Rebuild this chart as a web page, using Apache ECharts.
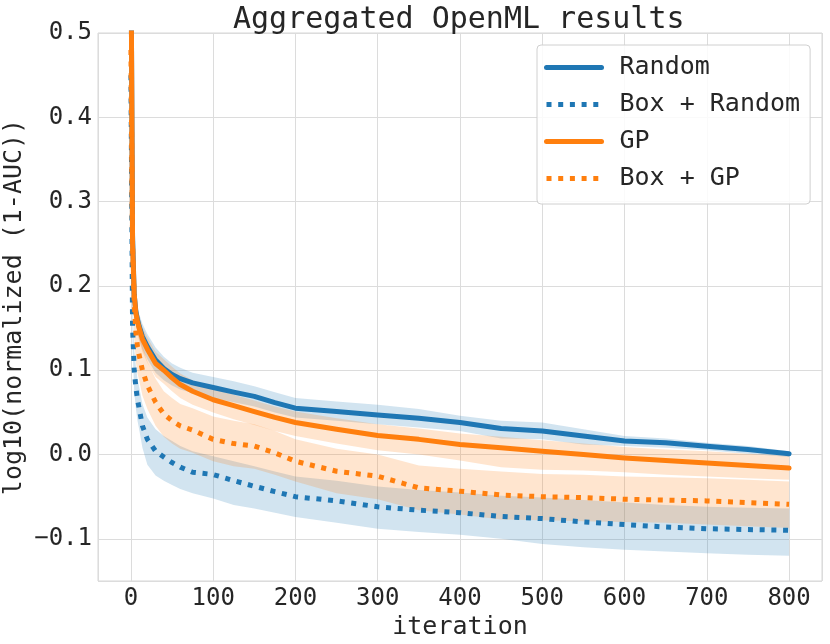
<!DOCTYPE html>
<html>
<head>
<meta charset="utf-8">
<script src="https://cdn.jsdelivr.net/npm/echarts@6/dist/echarts.min.js"></script>
<style>html,body{margin:0;padding:0;background:#fff}#c{width:830px;height:644px}</style>
</head>
<body>
<div id="c"></div>
<script>
var iterations = [0, 2, 4, 6, 8, 10, 14, 20, 30, 40, 50, 60, 75, 100, 125, 150, 175, 200, 250, 300, 350, 400, 450, 500, 550, 600, 650, 700, 750, 800];

var randomMean  = [0.62, 0.26, 0.19, 0.17, 0.16, 0.152, 0.14, 0.128, 0.112, 0.102, 0.095, 0.09, 0.085, 0.0795, 0.074, 0.069, 0.0615, 0.055, 0.051, 0.047, 0.043, 0.038, 0.031, 0.028, 0.022, 0.016, 0.014, 0.0099, 0.006, 0.001];
var randomUpper = [0.64, 0.28, 0.205, 0.185, 0.175, 0.167, 0.155, 0.143, 0.127, 0.116, 0.108, 0.103, 0.097, 0.092, 0.087, 0.081, 0.074, 0.067, 0.063, 0.059, 0.054, 0.046, 0.040, 0.038, 0.030, 0.022, 0.019, 0.014, 0.010, 0.004];
var randomLower = [0.60, 0.24, 0.175, 0.155, 0.145, 0.137, 0.125, 0.113, 0.097, 0.088, 0.082, 0.077, 0.073, 0.067, 0.062, 0.057, 0.050, 0.044, 0.040, 0.036, 0.032, 0.028, 0.019, 0.018, 0.012, 0.010, 0.008, 0.005, 0.001, -0.003];

var boxRandomMean  = [0.45, 0.152, 0.1, 0.08, 0.065, 0.055, 0.034, 0.018, 0.004, -0.003, -0.0095, -0.015, -0.021, -0.0237, -0.031, -0.0376, -0.044, -0.05, -0.055, -0.062, -0.066, -0.069, -0.0735, -0.076, -0.08, -0.083, -0.086, -0.088, -0.089, -0.0898];
var boxRandomUpper = [0.47, 0.18, 0.125, 0.105, 0.09, 0.08, 0.06, 0.044, 0.03, 0.022, 0.016, 0.01, 0.004, -0.002, -0.008, -0.014, -0.02, -0.026, -0.031, -0.038, -0.042, -0.045, -0.049, -0.051, -0.054, -0.057, -0.060, -0.062, -0.063, -0.064];
var boxRandomLower = [0.43, 0.125, 0.075, 0.055, 0.04, 0.03, 0.008, -0.012, -0.025, -0.031, -0.036, -0.041, -0.046, -0.052, -0.06, -0.064, -0.069, -0.074, -0.081, -0.088, -0.092, -0.095, -0.1, -0.106, -0.11, -0.113, -0.115, -0.117, -0.119, -0.12];

var gpMean  = [0.62, 0.25, 0.19, 0.168, 0.158, 0.15, 0.137, 0.125, 0.108, 0.1, 0.091, 0.083, 0.075, 0.065, 0.058, 0.051, 0.044, 0.038, 0.03, 0.0225, 0.018, 0.012, 0.008, 0.004, 0.0, -0.004, -0.007, -0.0099, -0.013, -0.016];
var gpUpper = [0.64, 0.27, 0.205, 0.183, 0.172, 0.164, 0.151, 0.139, 0.122, 0.113, 0.104, 0.096, 0.088, 0.078, 0.071, 0.064, 0.057, 0.051, 0.043, 0.036, 0.031, 0.025, 0.021, 0.017, 0.013, 0.009, 0.006, 0.004, 0.001, -0.001];
var gpLower = [0.60, 0.23, 0.175, 0.153, 0.143, 0.135, 0.122, 0.109, 0.092, 0.084, 0.075, 0.067, 0.059, 0.05, 0.042, 0.035, 0.028, 0.022, 0.013, 0.005, 0.0, -0.007, -0.015, -0.018, -0.019, -0.021, -0.024, -0.026, -0.028, -0.030];

var boxGpMean  = [0.48, 0.25, 0.18, 0.145, 0.128, 0.118, 0.1, 0.082, 0.062, 0.048, 0.04, 0.034, 0.029, 0.018, 0.013, 0.01, 0.002, -0.008, -0.0198, -0.0257, -0.0395, -0.0435, -0.048, -0.050, -0.051, -0.053, -0.054, -0.055, -0.057, -0.059];
var boxGpUpper = [0.52, 0.29, 0.22, 0.18, 0.16, 0.148, 0.13, 0.11, 0.09, 0.075, 0.067, 0.06, 0.055, 0.045, 0.04, 0.036, 0.028, 0.018, 0.007, 0.0, -0.013, -0.017, -0.020, -0.023, -0.024, -0.026, -0.027, -0.028, -0.030, -0.032];
var boxGpLower = [0.44, 0.21, 0.14, 0.11, 0.096, 0.088, 0.07, 0.054, 0.034, 0.021, 0.013, 0.007, 0.002, -0.008, -0.014, -0.017, -0.024, -0.032, -0.046, -0.053, -0.066, -0.071, -0.077, -0.078, -0.079, -0.080, -0.081, -0.083, -0.085, -0.087];

var seriesNames = ['Random', 'Box + Random', 'GP', 'Box + GP'];
var xTicks = [0, 100, 200, 300, 400, 500, 600, 700, 800];
var yTicks = [-0.1, 0.0, 0.1, 0.2, 0.3, 0.4, 0.5];

var BLUE = '#1f77b4', ORANGE = '#ff7f0e';
var FONT = 'DejaVu Sans Mono';
var TXT = '#262626';

function pairs(ys) { return iterations.map(function (x, i) { return [x, ys[i]]; }); }

function band(upper, lower, fill) {
  return {
    type: 'custom',
    silent: true,
    data: [[iterations[0], upper[0]]],
    renderItem: function (params, api) {
      var pts = [];
      for (var i = 0; i < iterations.length; i++) pts.push(api.coord([iterations[i], upper[i]]));
      for (var j = iterations.length - 1; j >= 0; j--) pts.push(api.coord([iterations[j], lower[j]]));
      var cs = params.coordSys;
      return {
        type: 'polygon',
        shape: { points: pts },
        style: { fill: fill, stroke: null },
        clipPath: { type: 'rect', shape: { x: cs.x, y: cs.y, width: cs.width, height: cs.height } }
      };
    },
    z: 1
  };
}

function line(name, ys, color, dotted) {
  return {
    name: name,
    type: 'line',
    data: pairs(ys),
    showSymbol: false,
    symbol: 'circle',
    symbolSize: 0,
    clip: true,
    z: 3,
    lineStyle: {
      color: color,
      width: 5,
      type: dotted ? [5, 6.7] : 'solid',
      cap: dotted ? 'butt' : 'round',
      join: 'round'
    },
    itemStyle: { color: color }
  };
}

var chart = echarts.init(document.getElementById('c'), null, { renderer: 'canvas' });
chart.setOption({
  backgroundColor: '#ffffff',
  animation: false,
  title: {
    text: 'Aggregated OpenML results',
    left: 233,
    top: 5,
    padding: 0,
    textStyle: { fontFamily: FONT, fontSize: 30, fontWeight: 'normal', color: TXT }
  },
  grid: {
    left: 98, right: 8, top: 33, bottom: 63,
    outerBoundsMode: 'none',
    containLabel: false,
    show: true, borderColor: '#d6d6d6', borderWidth: 1, backgroundColor: 'transparent'
  },
  legend: {
    data: seriesNames,
    orient: 'vertical',
    left: 537,
    top: 45,
    padding: [10, 10, 13, 7],
    itemGap: 12,
    itemWidth: 55,
    itemHeight: 14,
    backgroundColor: 'rgba(255,255,255,0.85)',
    borderColor: '#d0d0d0',
    borderWidth: 1,
    borderRadius: 4,
    itemStyle: { opacity: 0, borderWidth: 0 },
    lineStyle: { width: 5 },
    textStyle: { fontFamily: FONT, fontSize: 25, lineHeight: 25, color: TXT, padding: [0, 0, 0, 13] }
  },
  xAxis: {
    type: 'value',
    min: -40,
    max: 840,
    splitNumber: 9,
    name: 'iteration',
    nameLocation: 'middle',
    nameGap: 34,
    nameMoveOverlap: false,
    nameTextStyle: { fontFamily: FONT, fontSize: 25, color: TXT },
    axisLine: { show: false },
    axisTick: { show: false },
    axisLabel: {
      showMinLabel: false, showMaxLabel: false,
      fontFamily: FONT, fontSize: 24, color: TXT, margin: 6,
      formatter: function (v) { return xTicks.indexOf(v) >= 0 ? String(v) : ''; }
    },
    splitLine: { show: true, lineStyle: { color: '#dcdcdc', width: 1 } }
  },
  yAxis: {
    type: 'value',
    min: -0.15,
    max: 0.5,
    splitNumber: 7,
    name: 'log10(normalized (1-AUC))',
    nameLocation: 'middle',
    nameGap: 71,
    nameMoveOverlap: false,
    nameTextStyle: { fontFamily: FONT, fontSize: 25, color: TXT },
    axisLine: { show: false },
    axisTick: { show: false },
    axisLabel: {
      showMinLabel: false,
      fontFamily: FONT, fontSize: 24, color: TXT, margin: 6,
      formatter: function (v) {
        var r = Math.round(v * 10) / 10;
        if (Math.abs(r - v) > 1e-6) return '';
        return (r < 0 ? '\u2212' : '') + Math.abs(r).toFixed(1);
      }
    },
    splitLine: { show: true, lineStyle: { color: '#dcdcdc', width: 1 } }
  },
  series: [
    band(randomUpper, randomLower, 'rgba(31,119,180,0.2)'),
    band(boxRandomUpper, boxRandomLower, 'rgba(31,119,180,0.2)'),
    band(gpUpper, gpLower, 'rgba(255,127,14,0.2)'),
    band(boxGpUpper, boxGpLower, 'rgba(255,127,14,0.2)'),
    line('Random', randomMean, BLUE, false),
    line('Box + Random', boxRandomMean, BLUE, true),
    line('GP', gpMean, ORANGE, false),
    line('Box + GP', boxGpMean, ORANGE, true)
  ]
});
</script>
</body>
</html>
